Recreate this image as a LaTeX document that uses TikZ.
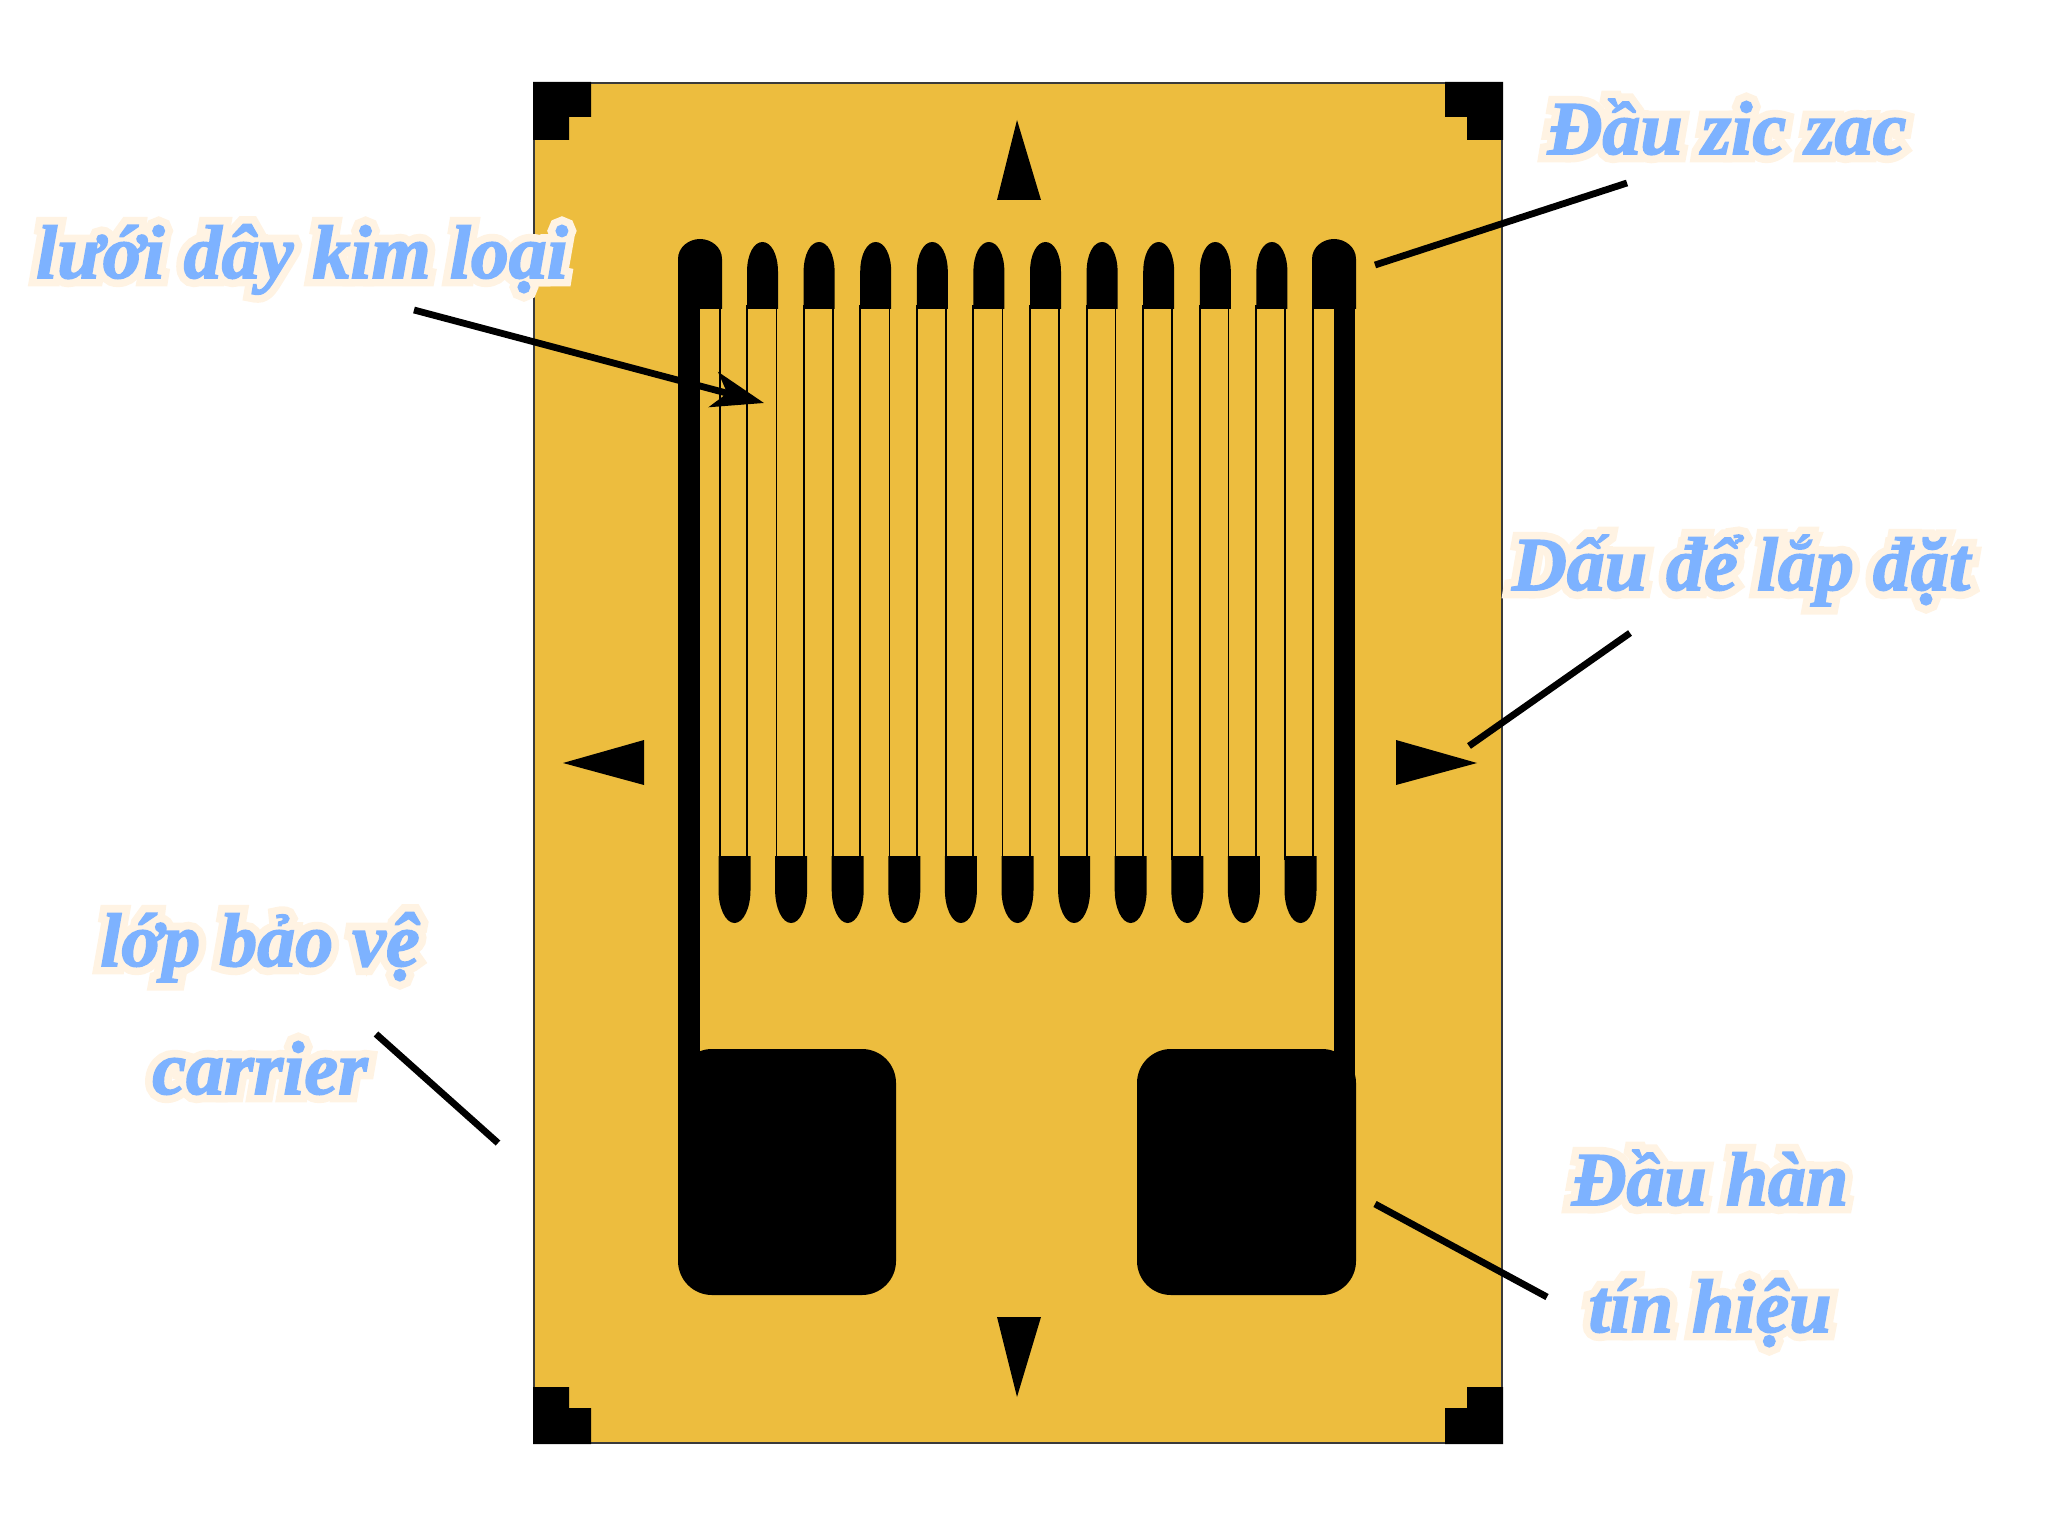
\documentclass[tikz,border=0pt]{standalone}
\usepackage{fontspec}
\usetikzlibrary{arrows.meta}
\definecolor{carrier}{HTML}{EDBD3E}
\definecolor{edgegray}{HTML}{3A3A3A}
\definecolor{labelblue}{HTML}{7DB2FF}
\definecolor{halocream}{HTML}{FFF3E3}
\newfontfamily\lblfont[FakeBold=2]{Liberation Serif Bold Italic}
\newfontfamily\halofont[FakeBold=22]{Liberation Serif Bold Italic}
\newcommand{\halotext}[1]{\makebox[0pt][l]{\fontsize{38}{46}\selectfont\halofont\textcolor{halocream}{#1}}\fontsize{38}{46}\selectfont\lblfont\textcolor{labelblue}{#1}}
\tikzset{
  carrierbox/.style={fill=carrier,draw=edgegray,line width=1pt},
  metal/.style={fill=black,draw=none},
  hair/.style={draw=black,line width=0.95pt},
  leader/.style={draw=black,line width=3.4pt},
  callout/.style={inner sep=0pt,anchor=base}
}
\begin{document}
\begin{tikzpicture}[x=0.5pt,y=-0.5pt]
\useasboundingbox (0,0) rectangle (2048,1540);
% carrier
\path[carrierbox] (534,83) rectangle (1502,1443);
% corner marks
\fill[metal] (533,82) -- (591,82) -- (591,117) -- (569,117) -- (569,140) -- (533,140) -- cycle;
\fill[metal] (1503,82) -- (1445,82) -- (1445,117) -- (1467,117) -- (1467,140) -- (1503,140) -- cycle;
\fill[metal] (533,1444) -- (591,1444) -- (591,1408) -- (569,1408) -- (569,1387) -- (533,1387) -- cycle;
\fill[metal] (1503,1444) -- (1445,1444) -- (1445,1408) -- (1467,1408) -- (1467,1387) -- (1503,1387) -- cycle;
% alignment triangles
\fill[metal] (1017,120) -- (1041,200) -- (997,200) -- cycle;
\fill[metal] (1017,1397) -- (1041,1317) -- (997,1317) -- cycle;
\fill[metal] (563,763) -- (644,740) -- (644,785) -- cycle;
\fill[metal] (1477,763) -- (1396,740) -- (1396,785) -- cycle;
% serpentine hairlines
\foreach \i in {0,...,10}{
  \pgfmathsetmacro{\xa}{720+56.5*\i}
  \pgfmathsetmacro{\xb}{747+56.6*\i}
  \draw[hair] (\xa,305) -- (\xa,860);
  \draw[hair] (\xb,305) -- (\xb,860);
}
% upper end loops
\foreach \i in {0,...,9}{
  \pgfmathsetmacro{\cx}{762.5+56.6*\i}
  \fill[metal] (\cx-15.5,309) -- (\cx-15.5,272) .. controls (\cx-15.5,254) and (\cx-8.5,242) .. (\cx,242) .. controls (\cx+8.5,242) and (\cx+15.5,254) .. (\cx+15.5,272) -- (\cx+15.5,309) -- cycle;
}
% lower end loops
\foreach \i in {0,...,10}{
  \pgfmathsetmacro{\cx}{734.5+56.6*\i}
  \fill[metal] (\cx-16,856) -- (\cx-16,890) .. controls (\cx-16,908) and (\cx-9,923) .. (\cx,923) .. controls (\cx+9,923) and (\cx+16,908) .. (\cx+16,890) -- (\cx+16,856) -- cycle;
}
% terminals and leads
\fill[metal] (678,309) -- (678,259) .. controls (678,247) and (689,239) .. (700,239) .. controls (711,239) and (722,247) .. (722,259) -- (722,309) -- cycle;
\fill[metal] (1312,309) -- (1312,259) .. controls (1312,247) and (1323,239) .. (1334,239) .. controls (1345,239) and (1356,247) .. (1356,259) -- (1356,309) -- cycle;
\fill[metal] (678,300) rectangle (700,1100);
\fill[metal] (1334,300) rectangle (1355,1100);
% solder pads
\fill[metal,rounded corners=17pt] (678,1049) rectangle (896,1295);
\fill[metal,rounded corners=17pt] (1137,1049) rectangle (1356,1295);
% labels
\node[callout] (zigzag) at (1727,154) {\halotext{Đầu zic zac}};
\node[callout] (grid) at (302,278) {\halotext{lưới dây kim loại}};
\node[callout] (mark) at (1741,590) {\halotext{Dấu để lắp đặt}};
\node[callout] (carrierA) at (260,966) {\halotext{lớp bảo vệ}};
\node[callout] (carrierB) at (260,1094) {\halotext{carrier}};
\node[callout] (padA) at (1710,1205) {\halotext{Đầu hàn}};
\node[callout] (padB) at (1710,1332) {\halotext{tín hiệu}};
% connector ends
\coordinate (z1) at (1627,183); \coordinate (z2) at (1375,265);
\coordinate (g1) at (414,310); \coordinate (g2) at (764,403);
\coordinate (m1) at (1630,633); \coordinate (m2) at (1469,746);
\coordinate (c1) at (376,1034); \coordinate (c2) at (498,1143);
\coordinate (p1) at (1375,1204); \coordinate (p2) at (1547,1297);
\draw[leader] (z1) -- (z2);
\draw[leader,-{Stealth[length=26pt,width=18pt,inset=7pt]}] (g1) -- (g2);
\draw[leader] (m1) -- (m2);
\draw[leader] (c1) -- (c2);
\draw[leader] (p1) -- (p2);
\end{tikzpicture}
\end{document}
